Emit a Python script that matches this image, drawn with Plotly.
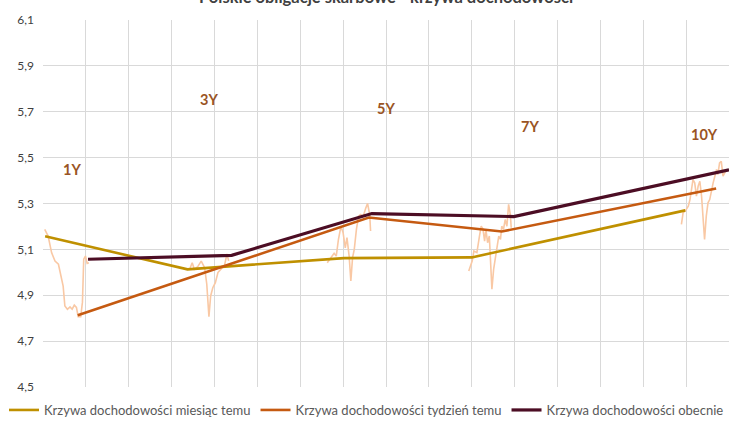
import plotly.graph_objects as go

# Yield curves (x = trading-day position on the chart's category axis)
month_x = [0.5, 33.7, 70.2, 100.0, 149.8]
month_y = [5.157, 5.013, 5.062, 5.065, 5.27]

week_x = [8.1, 76.0, 107.0, 157.0]
week_y = [4.813, 5.239, 5.178, 5.365]

now_x = [10.5, 44.0, 76.7, 109.8, 160.0]
now_y = [5.057, 5.074, 5.256, 5.243, 5.447]

# Daily yields of the benchmark bonds (clusters per tenor)
hist_1y_x = [0.4, 1.2, 2.0, 2.8, 3.6, 4.1, 4.7, 5.1, 5.7, 6.3, 6.8, 7.3, 7.8, 8.2, 8.8, 9.2, 9.5, 9.9, 10.3, 10.7]
hist_1y_y = [5.187, 5.158, 5.086, 5.049, 5.035, 4.984, 4.94, 4.853, 4.839, 4.849, 4.839, 4.857, 4.847, 4.807, 4.807, 4.87, 5.057, 5.071, 5.039, 5.042]
hist_3y_x = [34.2, 34.8, 35.3, 36.1, 36.9, 37.7, 38.2, 38.7, 39.1, 39.6, 40.2, 40.8, 41.6, 42.3, 42.9, 43.3]
hist_3y_y = [5.013, 5.042, 5.013, 5.025, 5.049, 5.02, 4.948, 4.807, 4.897, 4.933, 4.955, 4.999, 5.016, 5.027, 5.08, 5.05]
hist_5y_x = [66.3, 67.1, 67.9, 68.4, 68.9, 69.5, 70.0, 70.5, 70.9, 71.4, 71.8, 72.2, 72.6, 73.1, 73.6, 74.1, 74.7, 75.3, 75.7, 76.2, 76.4]
hist_5y_y = [5.042, 5.064, 5.083, 5.071, 5.143, 5.201, 5.172, 5.107, 5.151, 5.071, 4.962, 5.064, 5.1, 5.187, 5.245, 5.252, 5.245, 5.281, 5.3, 5.252, 5.18]
hist_7y_x = [99.3, 100.1, 100.5, 101.2, 101.8, 102.2, 102.6, 103.0, 103.3, 103.7, 104.1, 104.4, 104.7, 105.1, 105.5, 105.9, 106.3, 106.7, 107.0, 107.4, 107.8, 108.2, 108.6, 109.0, 109.2]
hist_7y_y = [5.006, 5.049, 5.093, 5.086, 5.158, 5.201, 5.19, 5.136, 5.187, 5.129, 5.158, 5.057, 4.926, 5.013, 5.064, 5.114, 5.158, 5.143, 5.201, 5.187, 5.23, 5.201, 5.296, 5.252, 5.194]
hist_10y_x = [148.9, 149.3, 149.8, 150.5, 150.9, 151.2, 151.6, 152.0, 152.4, 152.8, 153.2, 153.6, 154.0, 154.3, 154.7, 155.1, 155.5, 155.9, 156.3, 156.7, 157.1, 157.4, 157.8, 158.2, 158.6, 159.0, 159.4]
hist_10y_y = [5.209, 5.26, 5.267, 5.288, 5.317, 5.361, 5.404, 5.39, 5.332, 5.375, 5.397, 5.332, 5.245, 5.143, 5.245, 5.303, 5.317, 5.361, 5.39, 5.419, 5.448, 5.426, 5.477, 5.484, 5.419, 5.433, 5.448]

tenor_labels = ["1Y", "3Y", "5Y", "7Y", "10Y"]
tenor_label_x = [6.7, 38.8, 80.0, 113.7, 154.2]
tenor_label_y = [5.448, 5.752, 5.713, 5.635, 5.6]

y_ticks = [4.5, 4.7, 4.9, 5.1, 5.3, 5.5, 5.7, 5.9, 6.1]

FONT = "Lato"
fig = go.Figure()

hist_x, hist_y = [], []
for xs, ys in [(hist_1y_x, hist_1y_y), (hist_3y_x, hist_3y_y), (hist_5y_x, hist_5y_y),
               (hist_7y_x, hist_7y_y), (hist_10y_x, hist_10y_y)]:
    hist_x += xs + [None]
    hist_y += ys + [None]

fig.add_trace(go.Scatter(x=hist_x, y=hist_y, mode="lines", showlegend=False,
                         line=dict(color="#f9c8a4", width=1.6), hoverinfo="skip"))
fig.add_trace(go.Scatter(x=month_x, y=month_y, mode="lines",
                         name="Krzywa dochodowości miesiąc temu",
                         line=dict(color="#bf9000", width=2.6)))
fig.add_trace(go.Scatter(x=week_x, y=week_y, mode="lines",
                         name="Krzywa dochodowości tydzień temu",
                         line=dict(color="#c55a11", width=2.6)))
fig.add_trace(go.Scatter(x=now_x, y=now_y, mode="lines",
                         name="Krzywa dochodowości obecnie",
                         line=dict(color="#4c0d24", width=3.2)))

for t, tx, ty in zip(tenor_labels, tenor_label_x, tenor_label_y):
    fig.add_annotation(x=tx, y=ty, text="<b>" + t + "</b>", showarrow=False,
                       font=dict(family=FONT, size=14.5, color="#9a5424"))

# chart title, mostly cut off at the top edge as in the reference
fig.add_annotation(x=0.5, xref="paper", y=1, yref="paper", yanchor="bottom", yshift=11,
                   text="<b>Polskie obligacje skarbowe - krzywa dochodowości</b>",
                   showarrow=False, font=dict(family=FONT, size=16.5, color="#404040"))

fig.update_layout(
    width=729, height=425,
    margin=dict(l=43, r=0, t=20, b=37),
    paper_bgcolor="white", plot_bgcolor="white",
    separators=", ",
    font=dict(family=FONT, size=11, color="#595959"),
    showlegend=True,
    legend=dict(orientation="h", x=-0.055, xanchor="left", y=-0.062, yanchor="middle",
                bgcolor="rgba(0,0,0,0)",
                font=dict(family=FONT, size=13, color="#595959"),
                itemwidth=30, tracegroupgap=0),
)
fig.update_xaxes(range=[0, 160], dtick=10, tick0=0, showgrid=True, gridcolor="#d9d9d9",
                 gridwidth=1, showticklabels=False, zeroline=False, showline=False, ticks="")
fig.update_yaxes(range=[4.5, 6.1], tickvals=y_ticks, tickformat=".1f", showgrid=True,
                 gridcolor="#d9d9d9", gridwidth=1, zeroline=False, showline=False,
                 ticks="", ticklabelstandoff=8,
                 tickfont=dict(family=FONT, size=12, color="#404040"))

fig.write_html("out.html")
